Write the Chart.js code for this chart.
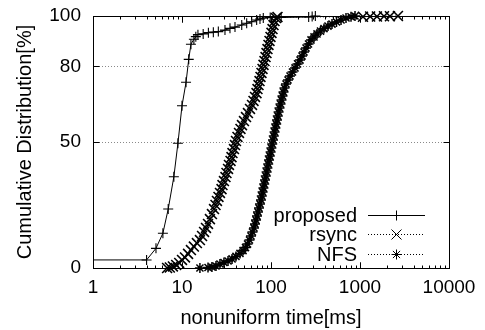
<!DOCTYPE html>
<html>
<head>
<meta charset="utf-8">
<script src="https://cdn.jsdelivr.net/npm/chart.js@4/dist/chart.umd.min.js"></script>
<style>
  html, body { margin: 0; padding: 0; background: #fff; }
  #wrap { width: 485px; height: 330px; }
</style>
</head>
<body>
<div id="wrap"><canvas id="cdf-chart" width="485" height="330"></canvas></div>
<script>
// values (time in ms, CDF in %)
const proposedTime = [1, 4.0, 5.1, 6.1, 7.0, 8.1, 9.0, 10.0, 11.1, 11.9, 12.6, 13.6, 14.3, 15.1, 17.3, 19.8, 22.5, 25.6, 30.4, 34.6, 39.4, 46.9, 53.3, 60.7, 69.0, 75.2, 81.9, 98, 130, 265, 290, 315];
const proposedCdf = [3.2, 3.2, 7.8, 13.8, 23.4, 36.2, 49.5, 64.4, 73.7, 82.8, 88.8, 90.8, 91.8, 92.6, 92.9, 93.4, 93.6, 93.8, 94.4, 95.1, 95.6, 96.4, 97.1, 97.7, 98.4, 98.8, 99.2, 99.4, 99.4, 99.6, 99.8, 100];

const rsyncTime = [6.8, 7.3, 7.9, 8.6, 9.3, 10.0, 10.8, 11.7, 12.6, 13.6, 14.7, 15.9, 16.8, 17.7, 18.6, 19.6, 20.6, 21.7, 22.9, 23.8,
  24.7, 25.7, 26.7, 27.8, 28.5, 29.6, 30.8, 31.6, 32.9, 33.7, 35.1, 36.0, 36.9, 38.4, 39.4, 40.4, 42.0, 43.7, 45.4, 47.2,
  49.7, 52.4, 55.1, 58.1, 61.2, 63.6, 66.1, 68.7, 70.5, 72.4, 74.3, 76.2, 78.2, 80.3, 82.4, 84.5, 86.8, 89.0, 91.3, 93.7,
  96.2, 98.7, 101.3, 104.0, 106.7, 109.5, 113.8, 118.3, 1080, 1300, 1550, 1860, 2170, 2670];
const rsyncCdf = [0, 0.2, 0.6, 1.2, 2.0, 3.2, 4.2, 5.6, 7.1, 8.5, 9.9, 11.1, 12.7, 14.3, 15.9, 17.5, 19.4, 21.4, 23.4, 25.0,
  26.6, 28.2, 29.8, 31.3, 32.9, 34.5, 36.1, 37.7, 39.3, 40.9, 42.5, 44.0, 45.6, 47.2, 48.8, 50.4, 52.0, 53.6, 55.2, 56.7,
  58.3, 59.9, 61.5, 63.1, 64.7, 66.3, 67.9, 69.4, 71.0, 72.6, 74.2, 75.8, 77.4, 79.0, 80.6, 82.1, 83.7, 85.3, 86.9, 88.5,
  90.1, 91.7, 93.3, 94.8, 96.4, 98.0, 99.2, 99.6, 99.7, 99.8, 99.8, 99.9, 99.9, 100];

const nfsTime = [15.9, 19.6, 21.7, 24.1, 26.7, 29.6, 32.9, 36.5, 40.4, 44.8, 48.5, 51.7, 54.5, 57.3, 59.6, 61.9, 64.4, 66.1, 67.9, 69.6,
  71.4, 73.3, 75.2, 77.2, 78.8, 80.5, 82.2, 83.9, 85.6, 87.4, 89.3, 91.1, 93.0, 95.0, 96.9, 99.0, 101.0, 103.2, 105.3, 107.5,
  109.7, 112.0, 114.4, 116.8, 119.2, 121.7, 124.6, 127.9, 131.2, 134.6, 138.2, 141.8, 147.4, 155.2, 163.5, 174.4, 186.1, 198.6, 211.8, 223.0,
  234.9, 247.4, 263.9, 281.5, 304.2, 328.8, 359.9, 394.0, 436.9, 484.6, 544.5, 611.8, 696.2, 792.3, 878.9];
const nfsCdf = [0, 0.2, 0.4, 0.8, 1.6, 2.2, 2.8, 3.6, 4.6, 5.8, 6.9, 8.1, 9.5, 11.1, 12.7, 14.3, 15.9, 17.5, 19.0, 20.6,
  22.2, 23.8, 25.4, 27.0, 28.6, 30.2, 31.7, 33.3, 34.9, 36.5, 38.1, 39.7, 41.3, 42.9, 44.4, 46.0, 47.6, 49.2, 50.8, 52.4,
  54.0, 55.6, 57.1, 58.7, 60.3, 61.9, 63.5, 65.1, 66.7, 68.3, 69.8, 71.4, 73.0, 74.6, 76.2, 77.8, 79.4, 81.0, 82.5, 84.1,
  85.7, 87.3, 88.9, 90.5, 91.7, 92.9, 94.0, 95.0, 96.0, 96.8, 97.6, 98.4, 99.2, 99.7, 100];

const seriesNames = ["proposed", "rsync", "NFS"];
const xTicks = [1, 10, 100, 1000, 10000];
const yTicks = [0, 50, 80, 100];
const yGridLines = [50, 80];

const FONT = "'Liberation Sans', Arial, Helvetica, sans-serif";

function toPoints(xs, ys) {
  return xs.map((x, i) => ({ x: x, y: ys[i] }));
}

// gnuplot style marker for the key
function drawMarker(ctx, style, x, y, r) {
  ctx.beginPath();
  if (style === "cross" || style === "star") {
    ctx.moveTo(x - r, y); ctx.lineTo(x + r, y);
    ctx.moveTo(x, y - r); ctx.lineTo(x, y + r);
  }
  if (style === "crossRot" || style === "star") {
    const d = style === "star" ? r * 0.72 : r;
    ctx.moveTo(x - d, y - d); ctx.lineTo(x + d, y + d);
    ctx.moveTo(x - d, y + d); ctx.lineTo(x + d, y - d);
  }
  ctx.stroke();
}

const gnuplotFrame = {
  id: "gnuplotFrame",
  beforeDatasetsDraw(chart) {
    const { ctx, chartArea: a, scales } = chart;
    ctx.save();
    ctx.strokeStyle = "#8a8a8a";
    ctx.lineWidth = 1;
    ctx.setLineDash([1, 2]);
    yGridLines.forEach(v => {
      const y = Math.round(scales.y.getPixelForValue(v)) + 0.5;
      ctx.beginPath();
      ctx.moveTo(a.left, y);
      ctx.lineTo(a.right, y);
      ctx.stroke();
    });
    ctx.restore();
  },
  afterDatasetsDraw(chart) {
    const { ctx, chartArea: a, scales } = chart;
    ctx.save();
    ctx.strokeStyle = "#000";
    ctx.lineWidth = 1;
    ctx.setLineDash([]);
    const L = Math.round(a.left) + 0.5, R = Math.round(a.right) + 0.5;
    const T = Math.round(a.top) + 0.5, B = Math.round(a.bottom) + 0.5;
    ctx.strokeRect(L, T, R - L, B - T);

    // x ticks (major + minor), bottom and mirrored on top
    ctx.beginPath();
    for (let d = 1; d < 10000; d *= 10) {
      for (let k = 1; k <= 10; k++) {
        const x = Math.round(scales.x.getPixelForValue(d * k)) + 0.5;
        const len = (k === 1 || k === 10) ? 6 : 3;
        ctx.moveTo(x, B); ctx.lineTo(x, B - len);
        ctx.moveTo(x, T); ctx.lineTo(x, T + len);
      }
    }
    // y ticks on left and right
    yTicks.forEach(v => {
      const y = Math.round(scales.y.getPixelForValue(v)) + 0.5;
      ctx.moveTo(L, y); ctx.lineTo(L + 6, y);
      ctx.moveTo(R, y); ctx.lineTo(R - 6, y);
    });
    ctx.stroke();
    ctx.restore();
  },
  afterDraw(chart) {
    const { ctx, chartArea: a } = chart;
    const rows = [
      { name: seriesNames[0], dash: [], style: "cross", r: 5, y: a.bottom - 53 },
      { name: seriesNames[1], dash: [1, 2], style: "crossRot", r: 5, y: a.bottom - 34 },
      { name: seriesNames[2], dash: [1, 2], style: "star", r: 5, y: a.bottom - 14 }
    ];
    ctx.save();
    ctx.font = "20px " + FONT;
    ctx.fillStyle = "#000";
    ctx.textAlign = "right";
    ctx.textBaseline = "middle";
    rows.forEach(r => {
      ctx.fillText(r.name, a.right - 92, r.y + 1);
      ctx.strokeStyle = "#000";
      ctx.lineWidth = 1;
      ctx.setLineDash(r.dash);
      ctx.beginPath();
      ctx.moveTo(a.right - 81, r.y + 0.5);
      ctx.lineTo(a.right - 24, r.y + 0.5);
      ctx.stroke();
      ctx.setLineDash([]);
      drawMarker(ctx, r.style, a.right - 52.5, r.y + 0.5, r.r);
    });
    ctx.restore();
  }
};

function lineSet(label, xs, ys, style, dash, radius, markWidth) {
  return {
    label: label,
    data: toPoints(xs, ys),
    borderColor: "#000",
    backgroundColor: "#000",
    borderWidth: 1,
    borderDash: dash,
    pointStyle: style,
    pointRadius: c => (label === "proposed" && c.dataIndex === 0) ? 0 : radius,
    pointBorderWidth: markWidth,
    pointBorderColor: "#000",
    tension: 0,
    clip: false
  };
}

const ctx = document.getElementById("cdf-chart").getContext("2d");

new Chart(ctx, {
  type: "line",
  data: {
    datasets: [
      lineSet(seriesNames[0], proposedTime, proposedCdf, "cross", [], 5, 1.1),
      lineSet(seriesNames[1], rsyncTime, rsyncCdf, "crossRot", [1, 2], 7, 1.6),
      lineSet(seriesNames[2], nfsTime, nfsCdf, "star", [1, 2], 5, 1.5)
    ]
  },
  options: {
    responsive: false,
    animation: false,
    layout: { padding: { top: 16, right: 36, left: 0, bottom: 0 } },
    plugins: {
      legend: { display: false },
      tooltip: { enabled: false }
    },
    scales: {
      x: {
        type: "logarithmic",
        min: 1,
        max: 10000,
        afterBuildTicks: s => { s.ticks = xTicks.map(v => ({ value: v })); },
        afterFit: s => { s.height = 62; s.paddingLeft = 0; s.paddingRight = 0; },
        grid: { display: false, drawTicks: false },
        border: { display: false },
        ticks: {
          autoSkip: false,
          maxRotation: 0,
          padding: 8,
          color: "#000",
          font: { family: FONT, size: 19 },
          callback: v => String(v)
        },
        title: {
          display: true,
          text: "nonuniform time[ms]",
          color: "#000",
          font: { family: FONT, size: 20 },
          padding: { top: 0, bottom: 0 }
        }
      },
      y: {
        min: 0,
        max: 100,
        afterBuildTicks: s => { s.ticks = yTicks.map(v => ({ value: v })); },
        afterFit: s => { s.width = 93; s.paddingTop = 0; s.paddingBottom = 0; },
        grid: { display: false, drawTicks: false },
        border: { display: false },
        ticks: {
          padding: 12,
          color: "#000",
          font: { family: FONT, size: 19 }
        },
        title: {
          display: true,
          text: "Cumulative Distribution[%]",
          color: "#000",
          font: { family: FONT, size: 20 },
          padding: { top: 13, bottom: 0 }
        }
      }
    }
  },
  plugins: [gnuplotFrame]
});
</script>
</body>
</html>
